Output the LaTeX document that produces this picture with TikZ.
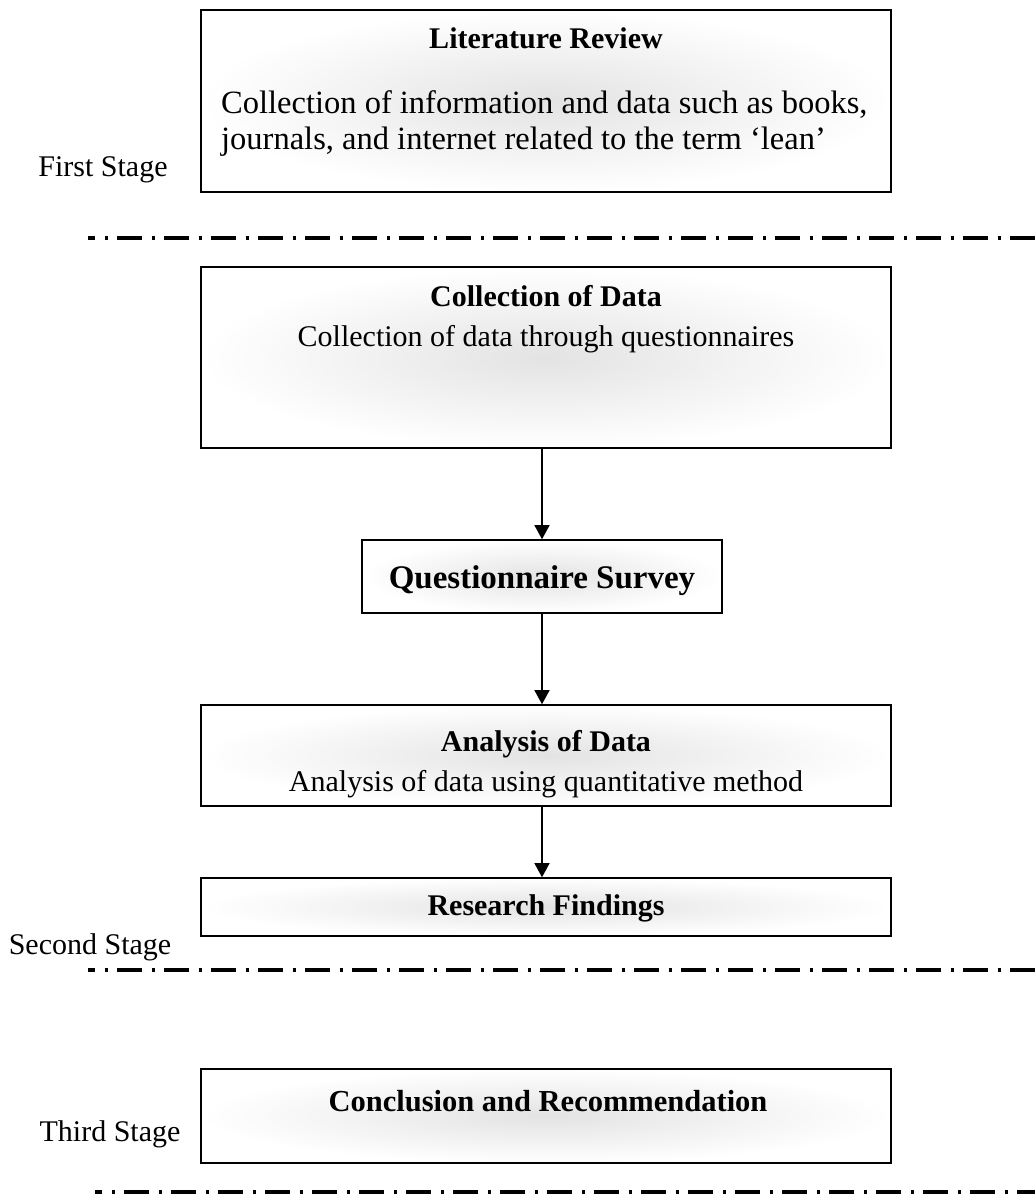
\documentclass[tikz,border=0pt]{standalone}
\usepackage{fontspec}
\setmainfont{Liberation Serif}
\usetikzlibrary{arrows.meta}
\begin{document}
\begin{tikzpicture}[x=1pt,y=-1pt,
  box/.style={draw, line width=1.6pt, inner color=black!11, outer color=white, inner sep=0pt},
  ttl/.style={font=\fontsize{30}{36}\selectfont\bfseries, anchor=base, inner sep=0pt},
  txt/.style={font=\fontsize{30}{36}\selectfont, anchor=base, inner sep=0pt},
  stage/.style={font=\fontsize{30}{36}\selectfont, anchor=base, inner sep=0pt},
  sep/.style={line width=3.2pt, dash pattern=on 25pt off 9.5pt on 3pt off 9.5pt, dash phase=18pt},
  arr/.style={line width=1.4pt, -{Triangle[width=15pt,length=14pt]}}]
\useasboundingbox (0,0) rectangle (1035,1194);
% boxes
\node[box, minimum width=690pt, minimum height=182pt] (lit) at (546,101) {};
\node[box, minimum width=690pt, minimum height=181pt] (col) at (546,357.5) {};
\node[box, minimum width=360pt, minimum height=73pt] (qs) at (542,576.5) {};
\node[box, minimum width=690pt, minimum height=101pt] (ana) at (546,755.5) {};
\node[box, minimum width=690pt, minimum height=58pt] (res) at (546,907) {};
\node[box, minimum width=690pt, minimum height=94pt] (con) at (546,1116) {};
% texts
\node[ttl] (litT) at (546,48) {Literature Review};
\node[txt, font=\fontsize{32.5}{36}\selectfont, anchor=base west] (litA) at (221,113) {Collection of information and data such as books,};
\node[txt, font=\fontsize{32.5}{36}\selectfont, anchor=base west] (litB) at (221,149) {journals, and internet related to the term ‘lean’};
\node[ttl] (colT) at (546,306) {Collection of Data};
\node[txt] (colA) at (546,346) {Collection of data through questionnaires};
\node[ttl, font=\fontsize{33}{38}\selectfont\bfseries] (qsT) at (542,588) {Questionnaire Survey};
\node[ttl] (anaT) at (546,751) {Analysis of Data};
\node[txt] (anaA) at (546,791) {Analysis of data using quantitative method};
\node[ttl] (resT) at (546,915) {Research Findings};
\node[ttl, font=\fontsize{30.5}{36}\selectfont\bfseries] (conT) at (548,1111) {Conclusion and Recommendation};
% stage labels
\node[stage] (s1) at (103,176) {First Stage};
\node[stage] (s2) at (90,954) {Second Stage};
\node[stage] (s3) at (110,1141) {Third Stage};
% separators
\coordinate (d1a) at (88,238); \coordinate (d1b) at (1035,238);
\coordinate (d2a) at (88,970); \coordinate (d2b) at (1035,970);
\coordinate (d3a) at (95,1192); \coordinate (d3b) at (1035,1192);
\draw[sep] (d1a) -- (d1b);
\draw[sep] (d2a) -- (d2b);
\draw[sep] (d3a) -- (d3b);
% arrows
\draw[arr] (col.south -| qs.north) -- (qs.north);
\draw[arr] (qs.south) -- (qs.south |- ana.north);
\draw[arr] (ana.south -| qs.north) -- (qs.north |- res.north);
\end{tikzpicture}
\end{document}
